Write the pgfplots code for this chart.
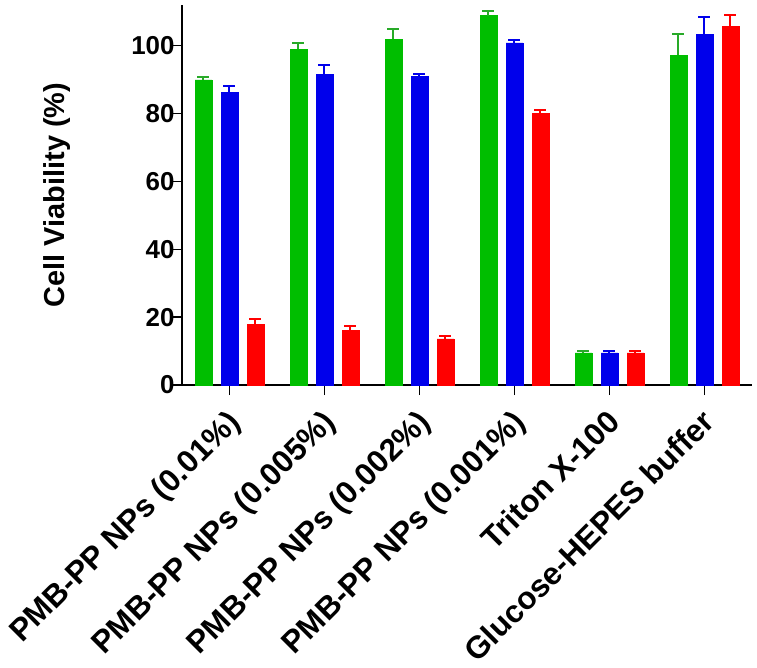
\documentclass[border=0pt]{standalone}
\usepackage{pgfplots}
\pgfplotsset{compat=1.18}
\usepackage{fontspec}
\setmainfont{Liberation Sans}
\definecolor{cgreen}{RGB}{0,190,0}
\definecolor{cgreenE}{RGB}{40,170,40}
\definecolor{cblue}{RGB}{0,0,235}
\definecolor{cred}{RGB}{255,0,0}
\begin{document}
\begin{tikzpicture}
\useasboundingbox (-182bp,-283bp) rectangle (575bp,385bp);
\begin{axis}[
  scale only axis,
  width=570bp, height=380bp,
  xmin=-0.5, xmax=5.5,
  ymin=0, ymax=112,
  axis lines=left,
  axis line style={line width=2bp, -},
  ybar=9.3bp,
  bar width=16.7bp,
  xtick={0,1,2,3,4,5},
  xticklabels={PMB-PP NPs (0.01\%),PMB-PP NPs (0.005\%),PMB-PP NPs (0.002\%),PMB-PP NPs (0.001\%),Triton X-100,Glucose-HEPES buffer},
  ytick={0,20,40,60,80,100},
  tick align=outside,
  major tick length=10bp,
  tick style={line width=1.5bp, black},
  /pgf/number format/assume math mode=true,
  yticklabel style={font=\fontsize{26}{30}\selectfont\bfseries, xshift=6bp},
  xticklabel style={font=\fontsize{31.5}{36}\selectfont\bfseries, xshift=-4bp, yshift=-8bp, rotate=45, anchor=north east},
  ylabel={Cell Viability (\%)},
  ylabel style={font=\fontsize{29}{34}\selectfont\bfseries, at={(axis description cs:-0.219,0.5)}, anchor=center},
  error bars/y dir=plus,
  error bars/y explicit,
  error bars/error mark options={rotate=90, mark size=6bp, line width=2bp},
]
\addplot[fill=cgreen, draw=cgreen, error bars/error bar style={cgreenE, line width=2bp}]
coordinates {(0,89.9)+-(0,0.8) (1,99.0)+-(0,1.9) (2,101.9)+-(0,3.0) (3,108.9)+-(0,1.4) (4,9.5)+-(0,0.6) (5,97.2)+-(0,6.3)};
\addplot[fill=cblue, draw=cblue, error bars/error bar style={cblue, line width=2bp}]
coordinates {(0,86.3)+-(0,1.8) (1,91.6)+-(0,2.6) (2,90.9)+-(0,0.9) (3,100.8)+-(0,0.8) (4,9.5)+-(0,0.6) (5,103.3)+-(0,5.3)};
\addplot[fill=cred, draw=cred, error bars/error bar style={cred, line width=2bp}]
coordinates {(0,17.9)+-(0,1.5) (1,16.2)+-(0,1.1) (2,13.6)+-(0,0.8) (3,80.0)+-(0,1.0) (4,9.5)+-(0,0.6) (5,105.8)+-(0,3.2)};
\end{axis}
\end{tikzpicture}
\end{document}
